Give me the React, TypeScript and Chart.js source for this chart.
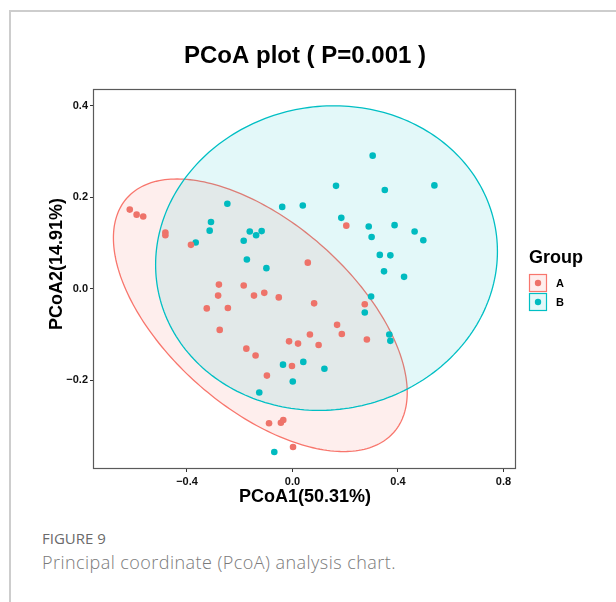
import React, { useEffect, useRef } from "react";
import { Chart, registerables } from "chart.js";

Chart.register(...registerables);

// ---- data ----
const groupNames = ["A", "B"];

const groupAX = [
  -0.617, -0.591, -0.566, -0.482, -0.482, -0.385, 0.204, 0.058, 0.082, 0.274,
  0.169, 0.187, 0.066, 0.099, 0.021, -0.013, 0.282, -0.002, 0.002, -0.279,
  -0.185, -0.282, -0.146, -0.107, -0.052, -0.325, -0.245, -0.276, -0.175, -0.14,
  -0.097, -0.089, -0.044, -0.035,
];
const groupAY = [
  0.173, 0.162, 0.158, 0.123, 0.117, 0.096, 0.138, 0.057, -0.032, -0.034,
  -0.079, -0.099, -0.1, -0.123, -0.12, -0.115, -0.111, -0.169, -0.346, 0.009,
  0.007, -0.015, -0.015, -0.009, -0.019, -0.043, -0.042, -0.09, -0.131, -0.146,
  -0.19, -0.294, -0.293, -0.287,
];
const groupBX = [
  -0.247, -0.309, -0.314, -0.367, -0.162, -0.138, -0.117, -0.185, -0.173, -0.099,
  -0.039, 0.304, 0.165, 0.35, 0.538, 0.039, 0.185, 0.289, 0.387, 0.3,
  0.463, 0.496, 0.331, 0.371, 0.347, 0.423, 0.298, 0.274, 0.367, 0.371,
  0.041, 0.121, 0.001, -0.036, -0.126, -0.069,
];
const groupBY = [
  0.186, 0.146, 0.127, 0.101, 0.125, 0.117, 0.126, 0.105, 0.064, 0.045,
  0.179, 0.291, 0.225, 0.216, 0.226, 0.182, 0.155, 0.136, 0.139, 0.113,
  0.125, 0.106, 0.074, 0.073, 0.038, 0.026, -0.017, -0.052, -0.1, -0.114,
  -0.16, -0.175, -0.203, -0.166, -0.227, -0.357,
];

// 95% confidence ellipses per group: centre, half-extents, correlation
const ellipseCX = [-0.122, 0.129];
const ellipseCY = [-0.058, 0.067];
const ellipseSX = [0.557, 0.648];
const ellipseSY = [0.298, 0.333];
const ellipseRho = [-0.567, 0.044];

const xTicks = [-0.4, 0.0, 0.4, 0.8];
const yTicks = [-0.2, 0.0, 0.2, 0.4];
const xRange = [-0.7526, 0.8474];
const yRange = [-0.392, 0.4372];

const titleText = "PCoA plot ( P=0.001 )";
const xTitle = "PCoA1(50.31%)";
const yTitle = "PCoA2(14.91%)";
const legendTitle = "Group";

// ---- styles ----
const lineColors = ["#F8766D", "#00BFC4"];
const dotColors = ["#EE736A", "#00BBC0"];
const fillColors = ["rgba(248,118,109,0.12)", "rgba(0,191,196,0.11)"];
const FONT = "'Liberation Sans', Arial, Helvetica, sans-serif";

const fmt = (v: number) => (v < 0 ? "\u2212" : "") + Math.abs(v).toFixed(1);

const ellipsePlugin = {
  id: "ellipses",
  beforeDatasetsDraw(chart: any) {
    const { ctx, chartArea: a, scales } = chart;
    const xs = scales.x;
    const ys = scales.y;
    ctx.save();
    ctx.beginPath();
    ctx.rect(a.left, a.top, a.right - a.left, a.bottom - a.top);
    ctx.clip();
    for (let g = 0; g < groupNames.length; g++) {
      const n = 240;
      const r = ellipseRho[g];
      const q = Math.sqrt(1 - r * r);
      ctx.beginPath();
      for (let i = 0; i <= n; i++) {
        const t = (i / n) * Math.PI * 2;
        const vx = ellipseCX[g] + ellipseSX[g] * Math.cos(t);
        const vy = ellipseCY[g] + ellipseSY[g] * (r * Math.cos(t) + q * Math.sin(t));
        const px = xs.getPixelForValue(vx);
        const py = ys.getPixelForValue(vy);
        if (i === 0) ctx.moveTo(px, py);
        else ctx.lineTo(px, py);
      }
      ctx.closePath();
      ctx.fillStyle = fillColors[g];
      ctx.fill();
      ctx.strokeStyle = lineColors[g];
      ctx.lineWidth = 1.3;
      ctx.stroke();
    }
    ctx.restore();
  },
};

const decorPlugin = {
  id: "decor",
  afterDraw(chart: any) {
    const { ctx, chartArea: a } = chart;
    ctx.save();
    // panel border
    ctx.strokeStyle = "#5a5a5a";
    ctx.lineWidth = 1.2;
    ctx.strokeRect(
      Math.round(a.left) - 0.5,
      Math.round(a.top) + 0.5,
      Math.round(a.right - a.left),
      Math.round(a.bottom - a.top)
    );
    // y axis title
    ctx.fillStyle = "#000";
    ctx.font = `bold 18px ${FONT}`;
    ctx.textAlign = "center";
    ctx.textBaseline = "middle";
    ctx.translate(57, 264);
    ctx.rotate(-Math.PI / 2);
    ctx.fillText(yTitle, 0, 0);
    ctx.restore();

    // legend
    ctx.save();
    const lx = a.right + 13;
    ctx.fillStyle = "#000";
    ctx.font = `bold 18px ${FONT}`;
    ctx.textAlign = "left";
    ctx.textBaseline = "alphabetic";
    ctx.fillText(legendTitle, lx, 263);
    for (let g = 0; g < groupNames.length; g++) {
      const by = 274 + g * 19;
      ctx.fillStyle = "#fff";
      ctx.fillRect(lx, by, 18, 18);
      ctx.fillStyle = fillColors[g];
      ctx.fillRect(lx, by, 18, 18);
      ctx.strokeStyle = lineColors[g];
      ctx.lineWidth = 1.2;
      ctx.strokeRect(lx + 0.5, by + 0.5, 17, 17);
      ctx.fillStyle = dotColors[g];
      ctx.beginPath();
      ctx.arc(lx + 9, by + 9, 3.2, 0, Math.PI * 2);
      ctx.fill();
      ctx.fillStyle = "#000";
      ctx.font = `bold 11px ${FONT}`;
      ctx.textBaseline = "middle";
      ctx.fillText(groupNames[g], lx + 27, by + 9.5);
    }
    ctx.restore();
  },
};

export default function App() {
  const ref = useRef<HTMLCanvasElement>(null);

  useEffect(() => {
    const canvas = ref.current;
    if (!canvas) return;
    Chart.defaults.font.family = FONT;
    const toPts = (xs: number[], ys: number[]) => xs.map((x, i) => ({ x, y: ys[i] }));
    const chart = new Chart(canvas, {
      type: "scatter",
      data: {
        datasets: [
          {
            label: groupNames[0],
            data: toPts(groupAX, groupAY),
            backgroundColor: dotColors[0],
            borderWidth: 0,
            pointRadius: 3.3,
            pointHoverRadius: 3.3,
          },
          {
            label: groupNames[1],
            data: toPts(groupBX, groupBY),
            backgroundColor: dotColors[1],
            borderWidth: 0,
            pointRadius: 3.3,
            pointHoverRadius: 3.3,
          },
        ],
      },
      options: {
        responsive: false,
        animation: false,
        devicePixelRatio: 1,
        layout: { padding: { left: 0, right: 100, top: 20, bottom: 12 } },
        plugins: {
          legend: { display: false },
          tooltip: { enabled: false },
          title: {
            display: true,
            text: titleText,
            fullSize: false,
            color: "#000",
            font: { size: 24, weight: "bold", family: FONT },
            padding: { top: 22, bottom: 18 },
          },
        },
        scales: {
          x: {
            type: "linear",
            position: "bottom",
            min: xRange[0],
            max: xRange[1],
            afterFit: (s: any) => {
              s.height = 40;
            },
            afterBuildTicks: (s: any) => {
              s.ticks = xTicks.map((v) => ({ value: v }));
            },
            ticks: {
              callback: (v: any) => fmt(Number(v)),
              color: "#111",
              font: { size: 11, weight: "bold", family: FONT },
              padding: 3,
              maxRotation: 0,
            },
            grid: {
              display: true,
              drawOnChartArea: false,
              drawTicks: true,
              tickLength: 4,
              color: "#333",
            },
            border: { display: false },
            title: {
              display: true,
              text: xTitle,
              color: "#000",
              font: { size: 18, weight: "bold", family: FONT },
              padding: { top: 0, bottom: 0 },
            },
          },
          y: {
            type: "linear",
            position: "left",
            min: yRange[0],
            max: yRange[1],
            afterFit: (s: any) => {
              s.width = 94;
            },
            afterBuildTicks: (s: any) => {
              s.ticks = yTicks.map((v) => ({ value: v }));
            },
            ticks: {
              callback: (v: any) => fmt(Number(v)),
              color: "#111",
              font: { size: 11, weight: "bold", family: FONT },
              padding: 2,
            },
            grid: {
              display: true,
              drawOnChartArea: false,
              drawTicks: true,
              tickLength: 4,
              color: "#333",
            },
            border: { display: false },
            title: { display: false },
          },
        },
      },
      plugins: [ellipsePlugin, decorPlugin],
    } as any);
    return () => chart.destroy();
  }, []);

  return (
    <div
      style={{
        position: "absolute",
        left: 0,
        top: 0,
        width: 616,
        height: 602,
        background: "#fff",
        overflow: "hidden",
      }}
    >
      <div
        style={{
          position: "absolute",
          left: 9,
          top: 10,
          width: 620,
          height: 600,
          borderTop: "2px solid #cdcdcd",
          borderLeft: "2px solid #cdcdcd",
        }}
      />
      <canvas
        ref={ref}
        width={616}
        height={520}
        style={{ position: "absolute", left: 0, top: 0, width: 616, height: 520 }}
      />
      <div
        style={{
          position: "absolute",
          left: 42,
          top: 528,
          fontFamily: "'Open Sans', Lato, sans-serif",
          fontSize: 15,
          fontWeight: 500,
          color: "#6a6a6a",
          whiteSpace: "nowrap",
        }}
      >
        FIGURE 9
      </div>
      <div
        style={{
          position: "absolute",
          left: 42,
          top: 550,
          fontFamily: "'Open Sans', Lato, sans-serif",
          fontSize: 18,
          fontWeight: 300,
          letterSpacing: 0.45,
          color: "#7a7a7a",
          whiteSpace: "nowrap",
        }}
      >
        Principal coordinate (PcoA) analysis chart.
      </div>
    </div>
  );
}
